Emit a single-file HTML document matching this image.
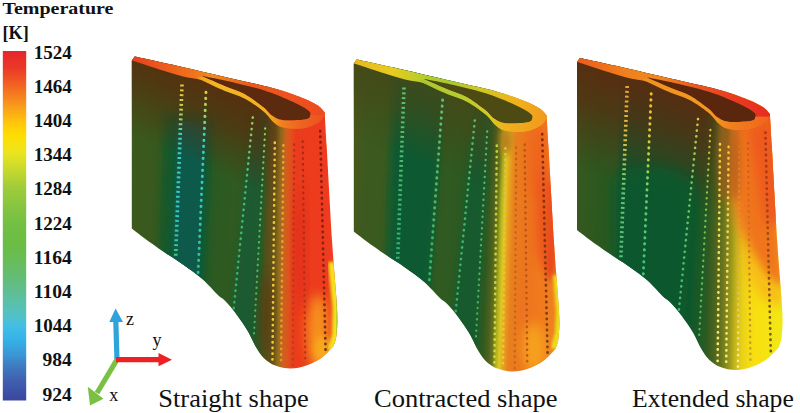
<!DOCTYPE html>
<html><head><meta charset="utf-8"><title>Temperature</title>
<style>
html,body{margin:0;padding:0;background:#fff;}
body{width:800px;height:413px;overflow:hidden;font-family:"Liberation Serif",serif;}
svg{display:block;}
text{font-family:"Liberation Serif",serif;fill:#111;}
</style></head><body>
<svg width="800" height="413" viewBox="0 0 800 413">
<defs>
<linearGradient id="leg" x1="0" y1="0" x2="0" y2="1">
<stop offset="0.00" stop-color="#e7252b"/><stop offset="0.05" stop-color="#ea3a27"/><stop offset="0.10" stop-color="#f26522"/><stop offset="0.15" stop-color="#f7941d"/><stop offset="0.20" stop-color="#ffc20e"/><stop offset="0.24" stop-color="#ffdd00"/><stop offset="0.29" stop-color="#ebe51e"/><stop offset="0.34" stop-color="#c6d92e"/><stop offset="0.39" stop-color="#a0cc3a"/><stop offset="0.45" stop-color="#84c441"/><stop offset="0.50" stop-color="#72bf44"/><stop offset="0.56" stop-color="#6abd45"/><stop offset="0.60" stop-color="#68bd5a"/><stop offset="0.66" stop-color="#62bd7d"/><stop offset="0.70" stop-color="#5dbf9b"/><stop offset="0.75" stop-color="#55c1c0"/><stop offset="0.79" stop-color="#41bde8"/><stop offset="0.83" stop-color="#35b0e6"/><stop offset="0.87" stop-color="#3b95d4"/><stop offset="0.90" stop-color="#3f7cc2"/><stop offset="0.94" stop-color="#3f62b0"/><stop offset="1.00" stop-color="#3b459f"/>
</linearGradient>
<filter id="bl6" x="-50%" y="-50%" width="200%" height="200%"><feGaussianBlur stdDeviation="6"/></filter>
<filter id="bl10" x="-50%" y="-50%" width="200%" height="200%"><feGaussianBlur stdDeviation="10"/></filter>
 <filter id="bl2" x="-50%" y="-50%" width="200%" height="200%"><feGaussianBlur stdDeviation="1.8"/></filter>
<filter id="bl3" x="-50%" y="-50%" width="200%" height="200%"><feGaussianBlur stdDeviation="3"/></filter>

<linearGradient id="mg" gradientUnits="userSpaceOnUse" x1="258" y1="0" x2="286" y2="0"><stop offset="0" stop-color="#fff"/><stop offset="1" stop-color="#000"/></linearGradient><mask id="tdm" maskUnits="userSpaceOnUse" x="120" y="50" width="230" height="330"><rect x="120" y="50" width="230" height="330" fill="url(#mg)"/></mask>
<clipPath id="sil"><path d="M134.7,56.6 C142.2,58.2 164.9,63.1 180.0,66.5 C195.1,69.9 209.4,73.4 225.0,77.0 C240.6,80.6 260.5,84.7 273.4,88.2 C286.3,91.7 295.0,95.0 302.4,97.9 C309.8,100.8 314.2,103.1 317.9,105.6 C321.6,108.0 323.6,111.4 324.7,112.6 C325.0,118.0 325.4,123.8 326.6,145.0 C327.8,166.2 330.3,212.8 332.0,240.0 C333.7,267.2 336.2,292.2 337.0,308.0 C337.8,323.8 337.1,328.7 336.5,335.0 C335.9,341.3 333.9,344.2 333.4,346.0 C331.5,347.9 326.3,354.2 321.8,357.5 C317.3,360.8 311.5,363.8 306.3,365.6 C301.1,367.4 296.0,368.5 290.8,368.5 C285.6,368.5 279.8,367.4 275.3,365.6 C270.8,363.8 266.9,360.9 263.7,357.9 C260.5,354.8 258.6,351.6 256.0,347.3 C253.4,343.0 251.4,337.3 248.2,331.8 C245.0,326.3 240.5,319.6 236.6,314.4 C232.7,309.2 228.1,304.0 225.0,300.8 C221.9,297.6 221.7,298.6 217.9,295.0 C214.1,291.4 208.2,284.0 202.4,278.9 C196.6,273.8 189.4,268.9 183.0,264.4 C176.6,259.9 170.1,256.2 163.7,251.8 C157.3,247.4 149.7,242.1 144.4,238.2 C139.1,234.3 133.9,230.1 131.8,228.5 L131.8,60.5 Z"/></clipPath>
<linearGradient id="body_b1" gradientUnits="userSpaceOnUse" x1="131" y1="0" x2="338" y2="0" gradientTransform="matrix(1 0 -0.012 1 3.00 0)"><stop offset="0.000" stop-color="#3c591e"/><stop offset="0.140" stop-color="#36591f"/><stop offset="0.406" stop-color="#2c5a22"/><stop offset="0.527" stop-color="#305a20"/><stop offset="0.575" stop-color="#285a24"/><stop offset="0.628" stop-color="#2e5a20"/><stop offset="0.652" stop-color="#54501a"/><stop offset="0.691" stop-color="#66501a"/><stop offset="0.715" stop-color="#90701c"/><stop offset="0.739" stop-color="#c8641c"/><stop offset="0.763" stop-color="#e0521c"/><stop offset="0.792" stop-color="#ea3c1c"/><stop offset="0.937" stop-color="#ee3a1e"/><stop offset="1.000" stop-color="#f0401e"/></linearGradient>
<linearGradient id="rim_b1" gradientUnits="userSpaceOnUse" x1="131" y1="0" x2="327" y2="0"><stop offset="0.00" stop-color="#e8401c"/><stop offset="0.30" stop-color="#f0701c"/><stop offset="0.42" stop-color="#f08a1e"/><stop offset="0.60" stop-color="#ec5a1e"/><stop offset="1.00" stop-color="#ee4a20"/></linearGradient>
<linearGradient id="band_b1" gradientUnits="userSpaceOnUse" x1="200" y1="0" x2="325" y2="0"><stop offset="0.000" stop-color="#f0a020"/><stop offset="0.120" stop-color="#f2b824"/><stop offset="0.544" stop-color="#f0b022"/><stop offset="0.656" stop-color="#f08020"/><stop offset="0.800" stop-color="#ee6420"/><stop offset="1.000" stop-color="#ee5020"/></linearGradient>
<linearGradient id="td_b1" gradientUnits="userSpaceOnUse" x1="200" y1="76" x2="166" y2="150"><stop offset="0" stop-color="#582e0e" stop-opacity="0.97"/><stop offset="0.4" stop-color="#582e0e" stop-opacity="0.68"/><stop offset="1" stop-color="#582e0e" stop-opacity="0"/></linearGradient>
<linearGradient id="dc_b1_0" gradientUnits="userSpaceOnUse" x1="0" y1="84.5" x2="0" y2="256.0"><stop offset="0.00" stop-color="#e8c040"/><stop offset="0.15" stop-color="#c8d050"/><stop offset="0.30" stop-color="#40d0c0"/><stop offset="0.80" stop-color="#30c8c8"/><stop offset="1.00" stop-color="#40c880"/></linearGradient>
<linearGradient id="dc_b1_1" gradientUnits="userSpaceOnUse" x1="0" y1="92.3" x2="0" y2="275.0"><stop offset="0.00" stop-color="#d8d048"/><stop offset="0.12" stop-color="#90d870"/><stop offset="0.25" stop-color="#38d0c0"/><stop offset="0.70" stop-color="#30c8b8"/><stop offset="1.00" stop-color="#30c090"/></linearGradient>
<linearGradient id="dc_b1_2" gradientUnits="userSpaceOnUse" x1="0" y1="117.4" x2="0" y2="308.5"><stop offset="0.00" stop-color="#a0d060"/><stop offset="0.30" stop-color="#40c080"/><stop offset="1.00" stop-color="#30b070"/></linearGradient>
<linearGradient id="dc_b1_3" gradientUnits="userSpaceOnUse" x1="0" y1="128.3" x2="0" y2="333.7"><stop offset="0.00" stop-color="#a0d050"/><stop offset="0.30" stop-color="#50c070"/><stop offset="1.00" stop-color="#40b060"/></linearGradient>
<linearGradient id="dc_b1_4" gradientUnits="userSpaceOnUse" x1="0" y1="142.6" x2="0" y2="362.7"><stop offset="0.00" stop-color="#f0c040"/><stop offset="1.00" stop-color="#f0d030"/></linearGradient>
<linearGradient id="dc_b1_5" gradientUnits="userSpaceOnUse" x1="0" y1="145.3" x2="0" y2="364.7"><stop offset="0.00" stop-color="#f0a040"/><stop offset="1.00" stop-color="#f09030"/></linearGradient>
<linearGradient id="dc_b1_6" gradientUnits="userSpaceOnUse" x1="0" y1="144.5" x2="0" y2="365.6"><stop offset="0.00" stop-color="#b83018"/><stop offset="1.00" stop-color="#c03c1c"/></linearGradient>
<linearGradient id="dc_b1_7" gradientUnits="userSpaceOnUse" x1="0" y1="141.4" x2="0" y2="362.7"><stop offset="0.00" stop-color="#a82814"/><stop offset="1.00" stop-color="#b83a16"/></linearGradient>
<linearGradient id="dc_b1_8" gradientUnits="userSpaceOnUse" x1="0" y1="131.0" x2="0" y2="351.0"><stop offset="0.00" stop-color="#901810"/><stop offset="0.70" stop-color="#802810"/><stop offset="1.00" stop-color="#6a3a10"/></linearGradient>
<linearGradient id="body_b2" gradientUnits="userSpaceOnUse" x1="131" y1="0" x2="338" y2="0" gradientTransform="matrix(1 0 -0.035 1 8.75 0)"><stop offset="0.000" stop-color="#45581c"/><stop offset="0.043" stop-color="#3c5a20"/><stop offset="0.333" stop-color="#345a20"/><stop offset="0.527" stop-color="#2c5a22"/><stop offset="0.643" stop-color="#325a20"/><stop offset="0.671" stop-color="#4e601e"/><stop offset="0.691" stop-color="#6a761e"/><stop offset="0.708" stop-color="#b0b01e"/><stop offset="0.725" stop-color="#e0c81e"/><stop offset="0.744" stop-color="#e8a01e"/><stop offset="0.768" stop-color="#e8801e"/><stop offset="0.826" stop-color="#ec741e"/><stop offset="0.913" stop-color="#f07a1e"/><stop offset="1.000" stop-color="#f0801e"/></linearGradient>
<linearGradient id="rim_b2" gradientUnits="userSpaceOnUse" x1="131" y1="0" x2="327" y2="0"><stop offset="0.00" stop-color="#e8b81e"/><stop offset="0.20" stop-color="#e8cc1e"/><stop offset="0.38" stop-color="#b0cc2c"/><stop offset="0.50" stop-color="#a8c830"/><stop offset="0.65" stop-color="#d0c822"/><stop offset="0.85" stop-color="#f0b01c"/><stop offset="1.00" stop-color="#f0981c"/></linearGradient>
<linearGradient id="band_b2" gradientUnits="userSpaceOnUse" x1="200" y1="0" x2="325" y2="0"><stop offset="0.000" stop-color="#a8c830"/><stop offset="0.320" stop-color="#b8cc2c"/><stop offset="0.544" stop-color="#d8c822"/><stop offset="0.680" stop-color="#f0b01e"/><stop offset="1.000" stop-color="#f09a1c"/></linearGradient>
<linearGradient id="td_b2" gradientUnits="userSpaceOnUse" x1="200" y1="76" x2="174" y2="150"><stop offset="0" stop-color="#454818" stop-opacity="0.90"/><stop offset="0.4" stop-color="#454818" stop-opacity="0.63"/><stop offset="1" stop-color="#454818" stop-opacity="0"/></linearGradient>
<linearGradient id="dc_b2_0" gradientUnits="userSpaceOnUse" x1="0" y1="84.5" x2="0" y2="256.0"><stop offset="0.00" stop-color="#60c070"/><stop offset="1.00" stop-color="#30b070"/></linearGradient>
<linearGradient id="dc_b2_1" gradientUnits="userSpaceOnUse" x1="0" y1="97.0" x2="0" y2="277.6"><stop offset="0.00" stop-color="#60c070"/><stop offset="1.00" stop-color="#30b070"/></linearGradient>
<linearGradient id="dc_b2_2" gradientUnits="userSpaceOnUse" x1="0" y1="117.4" x2="0" y2="308.5"><stop offset="0.00" stop-color="#50c070"/><stop offset="1.00" stop-color="#30b070"/></linearGradient>
<linearGradient id="dc_b2_3" gradientUnits="userSpaceOnUse" x1="0" y1="128.3" x2="0" y2="333.7"><stop offset="0.00" stop-color="#50c070"/><stop offset="1.00" stop-color="#40b060"/></linearGradient>
<linearGradient id="dc_b2_4" gradientUnits="userSpaceOnUse" x1="0" y1="142.6" x2="0" y2="362.7"><stop offset="0.00" stop-color="#c0d040"/><stop offset="1.00" stop-color="#d0d840"/></linearGradient>
<linearGradient id="dc_b2_5" gradientUnits="userSpaceOnUse" x1="0" y1="145.3" x2="0" y2="364.7"><stop offset="0.00" stop-color="#e0c040"/><stop offset="1.00" stop-color="#e8c840"/></linearGradient>
<linearGradient id="dc_b2_6" gradientUnits="userSpaceOnUse" x1="0" y1="144.5" x2="0" y2="365.6"><stop offset="0.00" stop-color="#c86018"/><stop offset="1.00" stop-color="#c06a1c"/></linearGradient>
<linearGradient id="dc_b2_7" gradientUnits="userSpaceOnUse" x1="0" y1="141.4" x2="0" y2="362.7"><stop offset="0.00" stop-color="#b85014"/><stop offset="1.00" stop-color="#b85a14"/></linearGradient>
<linearGradient id="dc_b2_8" gradientUnits="userSpaceOnUse" x1="0" y1="131.0" x2="0" y2="351.0"><stop offset="0.00" stop-color="#8a2810"/><stop offset="1.00" stop-color="#7a4410"/></linearGradient>
<linearGradient id="body_b3" gradientUnits="userSpaceOnUse" x1="131" y1="0" x2="338" y2="0" gradientTransform="matrix(1 0 -0.020 1 5.00 0)"><stop offset="0.000" stop-color="#36591f"/><stop offset="0.092" stop-color="#2c581f"/><stop offset="0.184" stop-color="#2a5a22"/><stop offset="0.208" stop-color="#0e582e"/><stop offset="0.551" stop-color="#10582c"/><stop offset="0.604" stop-color="#1e5a26"/><stop offset="0.638" stop-color="#2e5a22"/><stop offset="0.671" stop-color="#4a621e"/><stop offset="0.710" stop-color="#6a761e"/><stop offset="0.749" stop-color="#98961c"/><stop offset="0.778" stop-color="#c8b81a"/><stop offset="0.807" stop-color="#e8d018"/><stop offset="0.845" stop-color="#f5dc14"/><stop offset="0.889" stop-color="#f8e010"/><stop offset="1.000" stop-color="#f0e818"/></linearGradient>
<linearGradient id="rim_b3" gradientUnits="userSpaceOnUse" x1="131" y1="0" x2="327" y2="0"><stop offset="0.00" stop-color="#ec5a1e"/><stop offset="0.25" stop-color="#f0801c"/><stop offset="0.42" stop-color="#f0881e"/><stop offset="0.60" stop-color="#ec5a20"/><stop offset="0.80" stop-color="#e83c20"/><stop offset="1.00" stop-color="#e62c20"/></linearGradient>
<linearGradient id="band_b3" gradientUnits="userSpaceOnUse" x1="200" y1="0" x2="325" y2="0"><stop offset="0.000" stop-color="#f0921e"/><stop offset="0.544" stop-color="#f09a20"/><stop offset="0.680" stop-color="#f0801e"/><stop offset="1.000" stop-color="#f0641e"/></linearGradient>
<linearGradient id="td_b3" gradientUnits="userSpaceOnUse" x1="200" y1="76" x2="164" y2="178"><stop offset="0" stop-color="#5a2c10" stop-opacity="1.00"/><stop offset="0.4" stop-color="#5a2c10" stop-opacity="0.70"/><stop offset="1" stop-color="#5a2c10" stop-opacity="0"/></linearGradient>
<linearGradient id="dc_b3_0" gradientUnits="userSpaceOnUse" x1="0" y1="84.5" x2="0" y2="256.0"><stop offset="0.00" stop-color="#f0a030"/><stop offset="0.30" stop-color="#e0c040"/><stop offset="0.60" stop-color="#70c870"/><stop offset="1.00" stop-color="#50c080"/></linearGradient>
<linearGradient id="dc_b3_1" gradientUnits="userSpaceOnUse" x1="0" y1="92.3" x2="0" y2="275.0"><stop offset="0.00" stop-color="#f0c030"/><stop offset="0.30" stop-color="#d0d040"/><stop offset="0.60" stop-color="#60c870"/><stop offset="1.00" stop-color="#40c080"/></linearGradient>
<linearGradient id="dc_b3_2" gradientUnits="userSpaceOnUse" x1="0" y1="117.4" x2="0" y2="308.5"><stop offset="0.00" stop-color="#d0d040"/><stop offset="0.30" stop-color="#70c860"/><stop offset="1.00" stop-color="#40b870"/></linearGradient>
<linearGradient id="dc_b3_3" gradientUnits="userSpaceOnUse" x1="0" y1="128.3" x2="0" y2="333.7"><stop offset="0.00" stop-color="#e0c030"/><stop offset="0.30" stop-color="#80c850"/><stop offset="1.00" stop-color="#50b860"/></linearGradient>
<linearGradient id="dc_b3_4" gradientUnits="userSpaceOnUse" x1="0" y1="142.6" x2="0" y2="362.7"><stop offset="0.00" stop-color="#f8d040"/><stop offset="1.00" stop-color="#f8f080"/></linearGradient>
<linearGradient id="dc_b3_5" gradientUnits="userSpaceOnUse" x1="0" y1="145.3" x2="0" y2="364.7"><stop offset="0.00" stop-color="#f8c040"/><stop offset="1.00" stop-color="#f8f080"/></linearGradient>
<linearGradient id="dc_b3_6" gradientUnits="userSpaceOnUse" x1="0" y1="144.5" x2="0" y2="365.6"><stop offset="0.00" stop-color="#e07020"/><stop offset="0.50" stop-color="#e8a040"/><stop offset="1.00" stop-color="#f8f0a0"/></linearGradient>
<linearGradient id="dc_b3_7" gradientUnits="userSpaceOnUse" x1="0" y1="141.4" x2="0" y2="362.7"><stop offset="0.00" stop-color="#d05a1c"/><stop offset="0.50" stop-color="#d07a20"/><stop offset="1.00" stop-color="#c0a818"/></linearGradient>
<linearGradient id="dc_b3_8" gradientUnits="userSpaceOnUse" x1="0" y1="131.0" x2="0" y2="351.0"><stop offset="0.00" stop-color="#b03018"/><stop offset="0.50" stop-color="#a04a14"/><stop offset="1.00" stop-color="#706010"/></linearGradient>
</defs>
<rect x="2.8" y="51" width="23.4" height="349.5" fill="url(#leg)"/>
<text x="2.5" y="13.6" font-size="17" font-weight="bold" textLength="111" lengthAdjust="spacingAndGlyphs">Temperature</text>
<text x="2.5" y="38.6" font-size="19.5" font-weight="bold" textLength="26.3" lengthAdjust="spacingAndGlyphs">[K]</text>
<text x="33.7" y="58.5" font-size="17.8" font-weight="bold" textLength="38.1" lengthAdjust="spacingAndGlyphs">1524</text>
<text x="33.7" y="92.7" font-size="17.8" font-weight="bold" textLength="38.1" lengthAdjust="spacingAndGlyphs">1464</text>
<text x="33.7" y="126.9" font-size="17.8" font-weight="bold" textLength="38.1" lengthAdjust="spacingAndGlyphs">1404</text>
<text x="33.7" y="161.1" font-size="17.8" font-weight="bold" textLength="38.1" lengthAdjust="spacingAndGlyphs">1344</text>
<text x="33.7" y="195.3" font-size="17.8" font-weight="bold" textLength="38.1" lengthAdjust="spacingAndGlyphs">1284</text>
<text x="33.7" y="229.5" font-size="17.8" font-weight="bold" textLength="38.1" lengthAdjust="spacingAndGlyphs">1224</text>
<text x="33.7" y="263.7" font-size="17.8" font-weight="bold" textLength="38.1" lengthAdjust="spacingAndGlyphs">1164</text>
<text x="33.7" y="297.9" font-size="17.8" font-weight="bold" textLength="38.1" lengthAdjust="spacingAndGlyphs">1104</text>
<text x="33.7" y="332.1" font-size="17.8" font-weight="bold" textLength="38.1" lengthAdjust="spacingAndGlyphs">1044</text>
<text x="42.5" y="366.3" font-size="17.8" font-weight="bold" textLength="29.3" lengthAdjust="spacingAndGlyphs">984</text>
<text x="42.5" y="400.5" font-size="17.8" font-weight="bold" textLength="29.3" lengthAdjust="spacingAndGlyphs">924</text>
<g stroke-linecap="butt">
<line x1="117" y1="360" x2="115.8" y2="321" stroke="#2ea3dc" stroke-width="5.2"/><path d="M109.3,322 L115.6,308.5 L123,322Z" fill="#2ea3dc"/>
<line x1="117" y1="359.6" x2="97" y2="393" stroke="#7ac143" stroke-width="5.2"/><path d="M87.8,386.8 L90,405.5 L103.5,398.8Z" fill="#7ac143"/>
<line x1="116" y1="359.6" x2="160" y2="359.6" stroke="#ed2024" stroke-width="5.2"/><path d="M158.5,353 L172,359.7 L158.5,366.3Z" fill="#ed2024"/>
</g>
<text x="126" y="325.2" font-size="18">z</text><text x="152.6" y="345.5" font-size="18">y</text><text x="109.3" y="401.4" font-size="18">x</text>
<text x="158.3" y="407" font-size="26" textLength="150.5" lengthAdjust="spacingAndGlyphs">Straight shape</text>
<text x="374" y="407" font-size="26" textLength="183.5" lengthAdjust="spacingAndGlyphs">Contracted shape</text>
<text x="632.1" y="407" font-size="26" textLength="161.7" lengthAdjust="spacingAndGlyphs">Extended shape</text>
<g transform="translate(0.0,0.0)">
<g clip-path="url(#sil)">
<rect x="120" y="50" width="230" height="330" fill="url(#body_b1)"/>
<path d="M164.0,112.0 L214.1,112.0 L205.0,320.0 L156.3,320.0 Z" fill="#16582c" filter="url(#bl3)" opacity="1.00"/>
<path d="M176.6,122.0 L206.7,122.0 L198.0,320.0 L169.3,320.0 Z" fill="#085a4c" filter="url(#bl3)" opacity="1.00"/>
<path d="M252.5,110.0 L267.2,110.0 L253.6,360.0 L227.6,360.0 Z" fill="#1a5a30" filter="url(#bl3)" opacity="1.00"/>
<rect x="120" y="50" width="230" height="330" fill="url(#td_b1)" mask="url(#tdm)"/>
<ellipse cx="318" cy="332" rx="11" ry="38" fill="#f6921e" filter="url(#bl6)"/>
<ellipse cx="322" cy="350" rx="8" ry="14" fill="#f8a81e" filter="url(#bl3)"/>
<path d="M331.5,262 L336,308 L335.5,335 L331,350" fill="none" stroke="#f2e31a" stroke-width="7" filter="url(#bl2)"/>
<path d="M337,290 L338,315 L337,335" fill="none" stroke="#80c040" stroke-width="2.5" filter="url(#bl2)"/>
<ellipse cx="266" cy="315" rx="6" ry="42" fill="#5a3e16" filter="url(#bl6)" opacity="0.9"/>
<ellipse cx="300" cy="250" rx="5" ry="60" fill="#e02c1c" filter="url(#bl6)" opacity="0.8"/>
<line x1="182.0" y1="84.5" x2="175.7" y2="256.0" stroke="url(#dc_b1_0)" stroke-width="3.6" stroke-dasharray="2.0 2.84" stroke-linecap="butt"/>
<line x1="206.0" y1="92.3" x2="198.0" y2="275.0" stroke="url(#dc_b1_1)" stroke-width="2.9" stroke-dasharray="0.3 5.70" stroke-linecap="round"/>
<line x1="252.8" y1="117.4" x2="233.7" y2="308.5" stroke="url(#dc_b1_2)" stroke-width="2.5" stroke-dasharray="0.3 5.50" stroke-linecap="round"/>
<line x1="265.2" y1="128.3" x2="254.0" y2="333.7" stroke="url(#dc_b1_3)" stroke-width="2.2" stroke-dasharray="0.3 5.40" stroke-linecap="round"/>
<line x1="274.8" y1="142.6" x2="272.4" y2="362.7" stroke="url(#dc_b1_4)" stroke-width="2.6" stroke-dasharray="0.3 5.40" stroke-linecap="round"/>
<line x1="283.4" y1="145.3" x2="281.0" y2="364.7" stroke="url(#dc_b1_5)" stroke-width="2.6" stroke-dasharray="0.3 5.35" stroke-linecap="round"/>
<line x1="294.2" y1="144.5" x2="292.7" y2="365.6" stroke="url(#dc_b1_6)" stroke-width="2.4" stroke-dasharray="0.3 5.35" stroke-linecap="round"/>
<line x1="302.7" y1="141.4" x2="305.3" y2="362.7" stroke="url(#dc_b1_7)" stroke-width="2.4" stroke-dasharray="0.3 5.40" stroke-linecap="round"/>
<line x1="320.2" y1="131.0" x2="325.6" y2="351.0" stroke="url(#dc_b1_8)" stroke-width="2.7" stroke-dasharray="0.3 5.30" stroke-linecap="round"/>
</g>
<path d="M134.7,56.6 C142.2,58.2 164.9,63.1 180.0,66.5 C195.1,69.9 209.4,73.4 225.0,77.0 C240.6,80.6 260.5,84.7 273.4,88.2 C286.3,91.7 295.0,95.0 302.4,97.9 C309.8,100.8 314.2,103.1 317.9,105.6 C321.6,108.0 323.6,111.4 324.7,112.6 L324.9,115 C323.7,116.3 321.6,120.8 317.9,123.0 C314.1,125.2 308.2,127.8 302.4,128.5 C296.6,129.2 287.8,128.6 283.0,127.5 C278.2,126.4 276.6,124.7 273.4,122.0 C270.2,119.3 268.5,115.5 263.7,111.5 C258.9,107.5 250.8,101.5 244.4,98.0 C238.0,94.5 232.0,93.5 225.0,90.5 C218.0,87.5 209.4,82.6 202.4,80.3 C195.4,78.0 189.4,78.1 183.0,76.5 C176.6,74.9 170.1,72.8 163.7,70.8 C157.3,68.8 149.7,66.1 144.4,64.4 C139.1,62.7 133.9,61.1 131.8,60.5 Z" fill="url(#rim_b1)"/>
<path d="M202.4,76.0 C206.2,76.8 214.8,78.1 225.0,80.5 C235.2,82.9 252.4,86.7 263.7,90.2 C275.0,93.8 285.3,98.4 292.7,101.8 C300.1,105.2 305.3,108.2 308.2,110.5 C311.1,112.8 310.5,113.8 310.2,115.3 C309.9,116.8 310.8,118.4 306.3,119.2 C301.8,120.0 288.8,120.9 283.0,120.2 C277.2,119.5 274.7,117.4 271.5,115.3 C268.3,113.2 268.2,111.1 263.7,107.6 C259.2,104.0 250.8,97.5 244.4,94.0 C238.0,90.5 232.0,89.2 225.0,86.3 C218.0,83.4 206.2,78.2 202.4,76.6Z" fill="#5c2a0e"/>
<path d="M202.4,76.6 C206.2,78.2 218.0,83.4 225.0,86.3 C232.0,89.2 238.0,90.5 244.4,94.0 C250.8,97.5 259.2,104.0 263.7,107.6 C268.2,111.1 268.3,113.2 271.5,115.3 C274.7,117.4 277.2,119.5 283.0,120.2 C288.8,120.9 301.8,120.0 306.3,119.2 C310.8,118.4 309.6,116.0 310.2,115.3 L324.9,115 C323.7,116.3 321.6,120.8 317.9,123.0 C314.1,125.2 308.2,127.8 302.4,128.5 C296.6,129.2 287.8,128.6 283.0,127.5 C278.2,126.4 276.6,124.7 273.4,122.0 C270.2,119.3 268.5,115.4 263.7,111.5 C258.9,107.6 250.8,101.9 244.4,98.5 C238.0,95.1 231.6,93.8 225.0,91.0 C218.4,88.2 209.7,84.0 205.0,81.8 C200.3,79.6 198.3,78.6 197.0,78.0Z" fill="url(#band_b1)"/>
</g>
<g transform="translate(222.0,3.0)">
<g clip-path="url(#sil)">
<rect x="120" y="50" width="230" height="330" fill="url(#body_b2)"/>
<path d="M171.9,60.0 L224.3,60.0 L205.2,320.0 L162.3,320.0 Z" fill="#0e5a30" filter="url(#bl3)" opacity="1.00"/>
<path d="M252.5,100.0 L268.7,100.0 L254.6,360.0 L226.6,360.0 Z" fill="#145a2e" filter="url(#bl3)" opacity="1.00"/>
<rect x="120" y="50" width="230" height="330" fill="url(#td_b2)" mask="url(#tdm)"/>
<ellipse cx="318" cy="160" rx="10" ry="40" fill="#ee641c" filter="url(#bl6)"/>
<ellipse cx="328" cy="228" rx="7" ry="50" fill="#e8401c" filter="url(#bl3)"/>
<ellipse cx="322" cy="215" rx="8" ry="50" fill="#ec561c" filter="url(#bl6)"/>
<ellipse cx="312" cy="345" rx="12" ry="25" fill="#f6a01c" filter="url(#bl6)"/>
<path d="M334.5,272 L337.5,308 L336.5,330 L332,346" fill="none" stroke="#e8e01e" stroke-width="7" filter="url(#bl2)"/>
<path d="M337.5,285 L338.5,310 L337.5,330" fill="none" stroke="#70c040" stroke-width="2.5" filter="url(#bl2)"/>
<ellipse cx="284" cy="138" rx="6" ry="14" fill="#b8801c" filter="url(#bl3)"/>
<line x1="182.0" y1="84.5" x2="175.7" y2="256.0" stroke="url(#dc_b2_0)" stroke-width="3.6" stroke-dasharray="2.0 2.84" stroke-linecap="butt"/>
<line x1="220.6" y1="97.0" x2="207.3" y2="277.6" stroke="url(#dc_b2_1)" stroke-width="2.9" stroke-dasharray="0.3 5.70" stroke-linecap="round"/>
<line x1="252.8" y1="117.4" x2="233.7" y2="308.5" stroke="url(#dc_b2_2)" stroke-width="2.5" stroke-dasharray="0.3 5.50" stroke-linecap="round"/>
<line x1="265.2" y1="128.3" x2="254.0" y2="333.7" stroke="url(#dc_b2_3)" stroke-width="2.2" stroke-dasharray="0.3 5.40" stroke-linecap="round"/>
<line x1="274.8" y1="142.6" x2="272.4" y2="362.7" stroke="url(#dc_b2_4)" stroke-width="2.6" stroke-dasharray="0.3 5.40" stroke-linecap="round"/>
<line x1="283.4" y1="145.3" x2="281.0" y2="364.7" stroke="url(#dc_b2_5)" stroke-width="2.6" stroke-dasharray="0.3 5.35" stroke-linecap="round"/>
<line x1="294.2" y1="144.5" x2="292.7" y2="365.6" stroke="url(#dc_b2_6)" stroke-width="2.4" stroke-dasharray="0.3 5.35" stroke-linecap="round"/>
<line x1="302.7" y1="141.4" x2="305.3" y2="362.7" stroke="url(#dc_b2_7)" stroke-width="2.4" stroke-dasharray="0.3 5.40" stroke-linecap="round"/>
<line x1="320.2" y1="131.0" x2="325.6" y2="351.0" stroke="url(#dc_b2_8)" stroke-width="2.7" stroke-dasharray="0.3 5.30" stroke-linecap="round"/>
</g>
<path d="M134.7,56.6 C142.2,58.2 164.9,63.1 180.0,66.5 C195.1,69.9 209.4,73.4 225.0,77.0 C240.6,80.6 260.5,84.7 273.4,88.2 C286.3,91.7 295.0,95.0 302.4,97.9 C309.8,100.8 314.2,103.1 317.9,105.6 C321.6,108.0 323.6,111.4 324.7,112.6 L324.9,115 C323.7,116.3 321.6,120.8 317.9,123.0 C314.1,125.2 308.2,127.8 302.4,128.5 C296.6,129.2 287.8,128.6 283.0,127.5 C278.2,126.4 276.6,124.7 273.4,122.0 C270.2,119.3 268.5,115.5 263.7,111.5 C258.9,107.5 250.8,101.5 244.4,98.0 C238.0,94.5 232.0,93.5 225.0,90.5 C218.0,87.5 209.4,82.6 202.4,80.3 C195.4,78.0 189.4,78.1 183.0,76.5 C176.6,74.9 170.1,72.8 163.7,70.8 C157.3,68.8 149.7,66.1 144.4,64.4 C139.1,62.7 133.9,61.1 131.8,60.5 Z" fill="url(#rim_b2)"/>
<path d="M202.4,76.0 C206.2,76.8 214.8,78.1 225.0,80.5 C235.2,82.9 252.4,86.7 263.7,90.2 C275.0,93.8 285.3,98.4 292.7,101.8 C300.1,105.2 305.3,108.2 308.2,110.5 C311.1,112.8 310.5,113.8 310.2,115.3 C309.9,116.8 310.8,118.4 306.3,119.2 C301.8,120.0 288.8,120.9 283.0,120.2 C277.2,119.5 274.7,117.4 271.5,115.3 C268.3,113.2 268.2,111.1 263.7,107.6 C259.2,104.0 250.8,97.5 244.4,94.0 C238.0,90.5 232.0,89.2 225.0,86.3 C218.0,83.4 206.2,78.2 202.4,76.6Z" fill="#4e4a14"/>
<path d="M202.4,76.6 C206.2,78.2 218.0,83.4 225.0,86.3 C232.0,89.2 238.0,90.5 244.4,94.0 C250.8,97.5 259.2,104.0 263.7,107.6 C268.2,111.1 268.3,113.2 271.5,115.3 C274.7,117.4 277.2,119.5 283.0,120.2 C288.8,120.9 301.8,120.0 306.3,119.2 C310.8,118.4 309.6,116.0 310.2,115.3 L324.9,115 C323.7,116.3 321.6,120.8 317.9,123.0 C314.1,125.2 308.2,127.8 302.4,128.5 C296.6,129.2 287.8,128.6 283.0,127.5 C278.2,126.4 276.6,124.7 273.4,122.0 C270.2,119.3 268.5,115.4 263.7,111.5 C258.9,107.6 250.8,101.9 244.4,98.5 C238.0,95.1 231.6,93.8 225.0,91.0 C218.4,88.2 209.7,84.0 205.0,81.8 C200.3,79.6 198.3,78.6 197.0,78.0Z" fill="url(#band_b2)"/>
</g>
<g transform="translate(445.2,1.5)">
<g clip-path="url(#sil)">
<rect x="120" y="50" width="230" height="330" fill="url(#body_b3)"/>

<rect x="120" y="50" width="230" height="330" fill="url(#td_b3)" mask="url(#tdm)"/>
<path d="M284,120 L330.5,110 L341,290 L322,278 L305,252 L292,222 L284,185Z" fill="#f0741e" filter="url(#bl6)"/>
<path d="M298,240 L318,278 L339,292 L339,305 L318,298 L300,268Z" fill="#f8b01c" filter="url(#bl6)" opacity="0.85"/>
<path d="M326,112 L329,160 L332,215" fill="none" stroke="#e8401e" stroke-width="7" filter="url(#bl3)"/>
<path d="M302,126 L330,112 L335,220 L320,225 Z" fill="#ee5a1e" filter="url(#bl6)"/>
<ellipse cx="280" cy="152" rx="7" ry="48" fill="#8e5e1c" filter="url(#bl3)"/>
<ellipse cx="290" cy="160" rx="5" ry="40" fill="#c0641c" filter="url(#bl3)"/>
<path d="M168,180 C180,160 235,160 250,185 L240,320 L168,270Z" fill="#0e582e" filter="url(#bl6)" opacity="0.9"/>
<line x1="182.0" y1="84.5" x2="175.7" y2="256.0" stroke="url(#dc_b3_0)" stroke-width="3.6" stroke-dasharray="2.0 2.84" stroke-linecap="butt"/>
<line x1="206.0" y1="92.3" x2="198.0" y2="275.0" stroke="url(#dc_b3_1)" stroke-width="2.9" stroke-dasharray="0.3 5.70" stroke-linecap="round"/>
<line x1="252.8" y1="117.4" x2="233.7" y2="308.5" stroke="url(#dc_b3_2)" stroke-width="2.5" stroke-dasharray="0.3 5.50" stroke-linecap="round"/>
<line x1="265.2" y1="128.3" x2="254.0" y2="333.7" stroke="url(#dc_b3_3)" stroke-width="2.2" stroke-dasharray="0.3 5.40" stroke-linecap="round"/>
<line x1="274.8" y1="142.6" x2="272.4" y2="362.7" stroke="url(#dc_b3_4)" stroke-width="2.6" stroke-dasharray="0.3 5.40" stroke-linecap="round"/>
<line x1="283.4" y1="145.3" x2="281.0" y2="364.7" stroke="url(#dc_b3_5)" stroke-width="2.6" stroke-dasharray="0.3 5.35" stroke-linecap="round"/>
<line x1="294.2" y1="144.5" x2="292.7" y2="365.6" stroke="url(#dc_b3_6)" stroke-width="2.4" stroke-dasharray="0.3 5.35" stroke-linecap="round"/>
<line x1="302.7" y1="141.4" x2="305.3" y2="362.7" stroke="url(#dc_b3_7)" stroke-width="2.4" stroke-dasharray="0.3 5.40" stroke-linecap="round"/>
<line x1="320.2" y1="131.0" x2="325.6" y2="351.0" stroke="url(#dc_b3_8)" stroke-width="2.7" stroke-dasharray="0.3 5.30" stroke-linecap="round"/>
</g>
<path d="M134.7,56.6 C142.2,58.2 164.9,63.1 180.0,66.5 C195.1,69.9 209.4,73.4 225.0,77.0 C240.6,80.6 260.5,84.7 273.4,88.2 C286.3,91.7 295.0,95.0 302.4,97.9 C309.8,100.8 314.2,103.1 317.9,105.6 C321.6,108.0 323.6,111.4 324.7,112.6 L324.9,115 C323.7,116.3 321.6,120.8 317.9,123.0 C314.1,125.2 308.2,127.8 302.4,128.5 C296.6,129.2 287.8,128.6 283.0,127.5 C278.2,126.4 276.6,124.7 273.4,122.0 C270.2,119.3 268.5,115.5 263.7,111.5 C258.9,107.5 250.8,101.5 244.4,98.0 C238.0,94.5 232.0,93.5 225.0,90.5 C218.0,87.5 209.4,82.6 202.4,80.3 C195.4,78.0 189.4,78.1 183.0,76.5 C176.6,74.9 170.1,72.8 163.7,70.8 C157.3,68.8 149.7,66.1 144.4,64.4 C139.1,62.7 133.9,61.1 131.8,60.5 Z" fill="url(#rim_b3)"/>
<path d="M202.4,76.0 C206.2,76.8 214.8,78.1 225.0,80.5 C235.2,82.9 252.4,86.7 263.7,90.2 C275.0,93.8 285.3,98.4 292.7,101.8 C300.1,105.2 305.3,108.2 308.2,110.5 C311.1,112.8 310.5,113.8 310.2,115.3 C309.9,116.8 310.8,118.4 306.3,119.2 C301.8,120.0 288.8,120.9 283.0,120.2 C277.2,119.5 274.7,117.4 271.5,115.3 C268.3,113.2 268.2,111.1 263.7,107.6 C259.2,104.0 250.8,97.5 244.4,94.0 C238.0,90.5 232.0,89.2 225.0,86.3 C218.0,83.4 206.2,78.2 202.4,76.6Z" fill="#5a260e"/>
<path d="M202.4,76.6 C206.2,78.2 218.0,83.4 225.0,86.3 C232.0,89.2 238.0,90.5 244.4,94.0 C250.8,97.5 259.2,104.0 263.7,107.6 C268.2,111.1 268.3,113.2 271.5,115.3 C274.7,117.4 277.2,119.5 283.0,120.2 C288.8,120.9 301.8,120.0 306.3,119.2 C310.8,118.4 309.6,116.0 310.2,115.3 L324.9,115 C323.7,116.3 321.6,120.8 317.9,123.0 C314.1,125.2 308.2,127.8 302.4,128.5 C296.6,129.2 287.8,128.6 283.0,127.5 C278.2,126.4 276.6,124.7 273.4,122.0 C270.2,119.3 268.5,115.4 263.7,111.5 C258.9,107.6 250.8,101.9 244.4,98.5 C238.0,95.1 231.6,93.8 225.0,91.0 C218.4,88.2 209.7,84.0 205.0,81.8 C200.3,79.6 198.3,78.6 197.0,78.0Z" fill="url(#band_b3)"/>
</g>
</svg></body></html>
